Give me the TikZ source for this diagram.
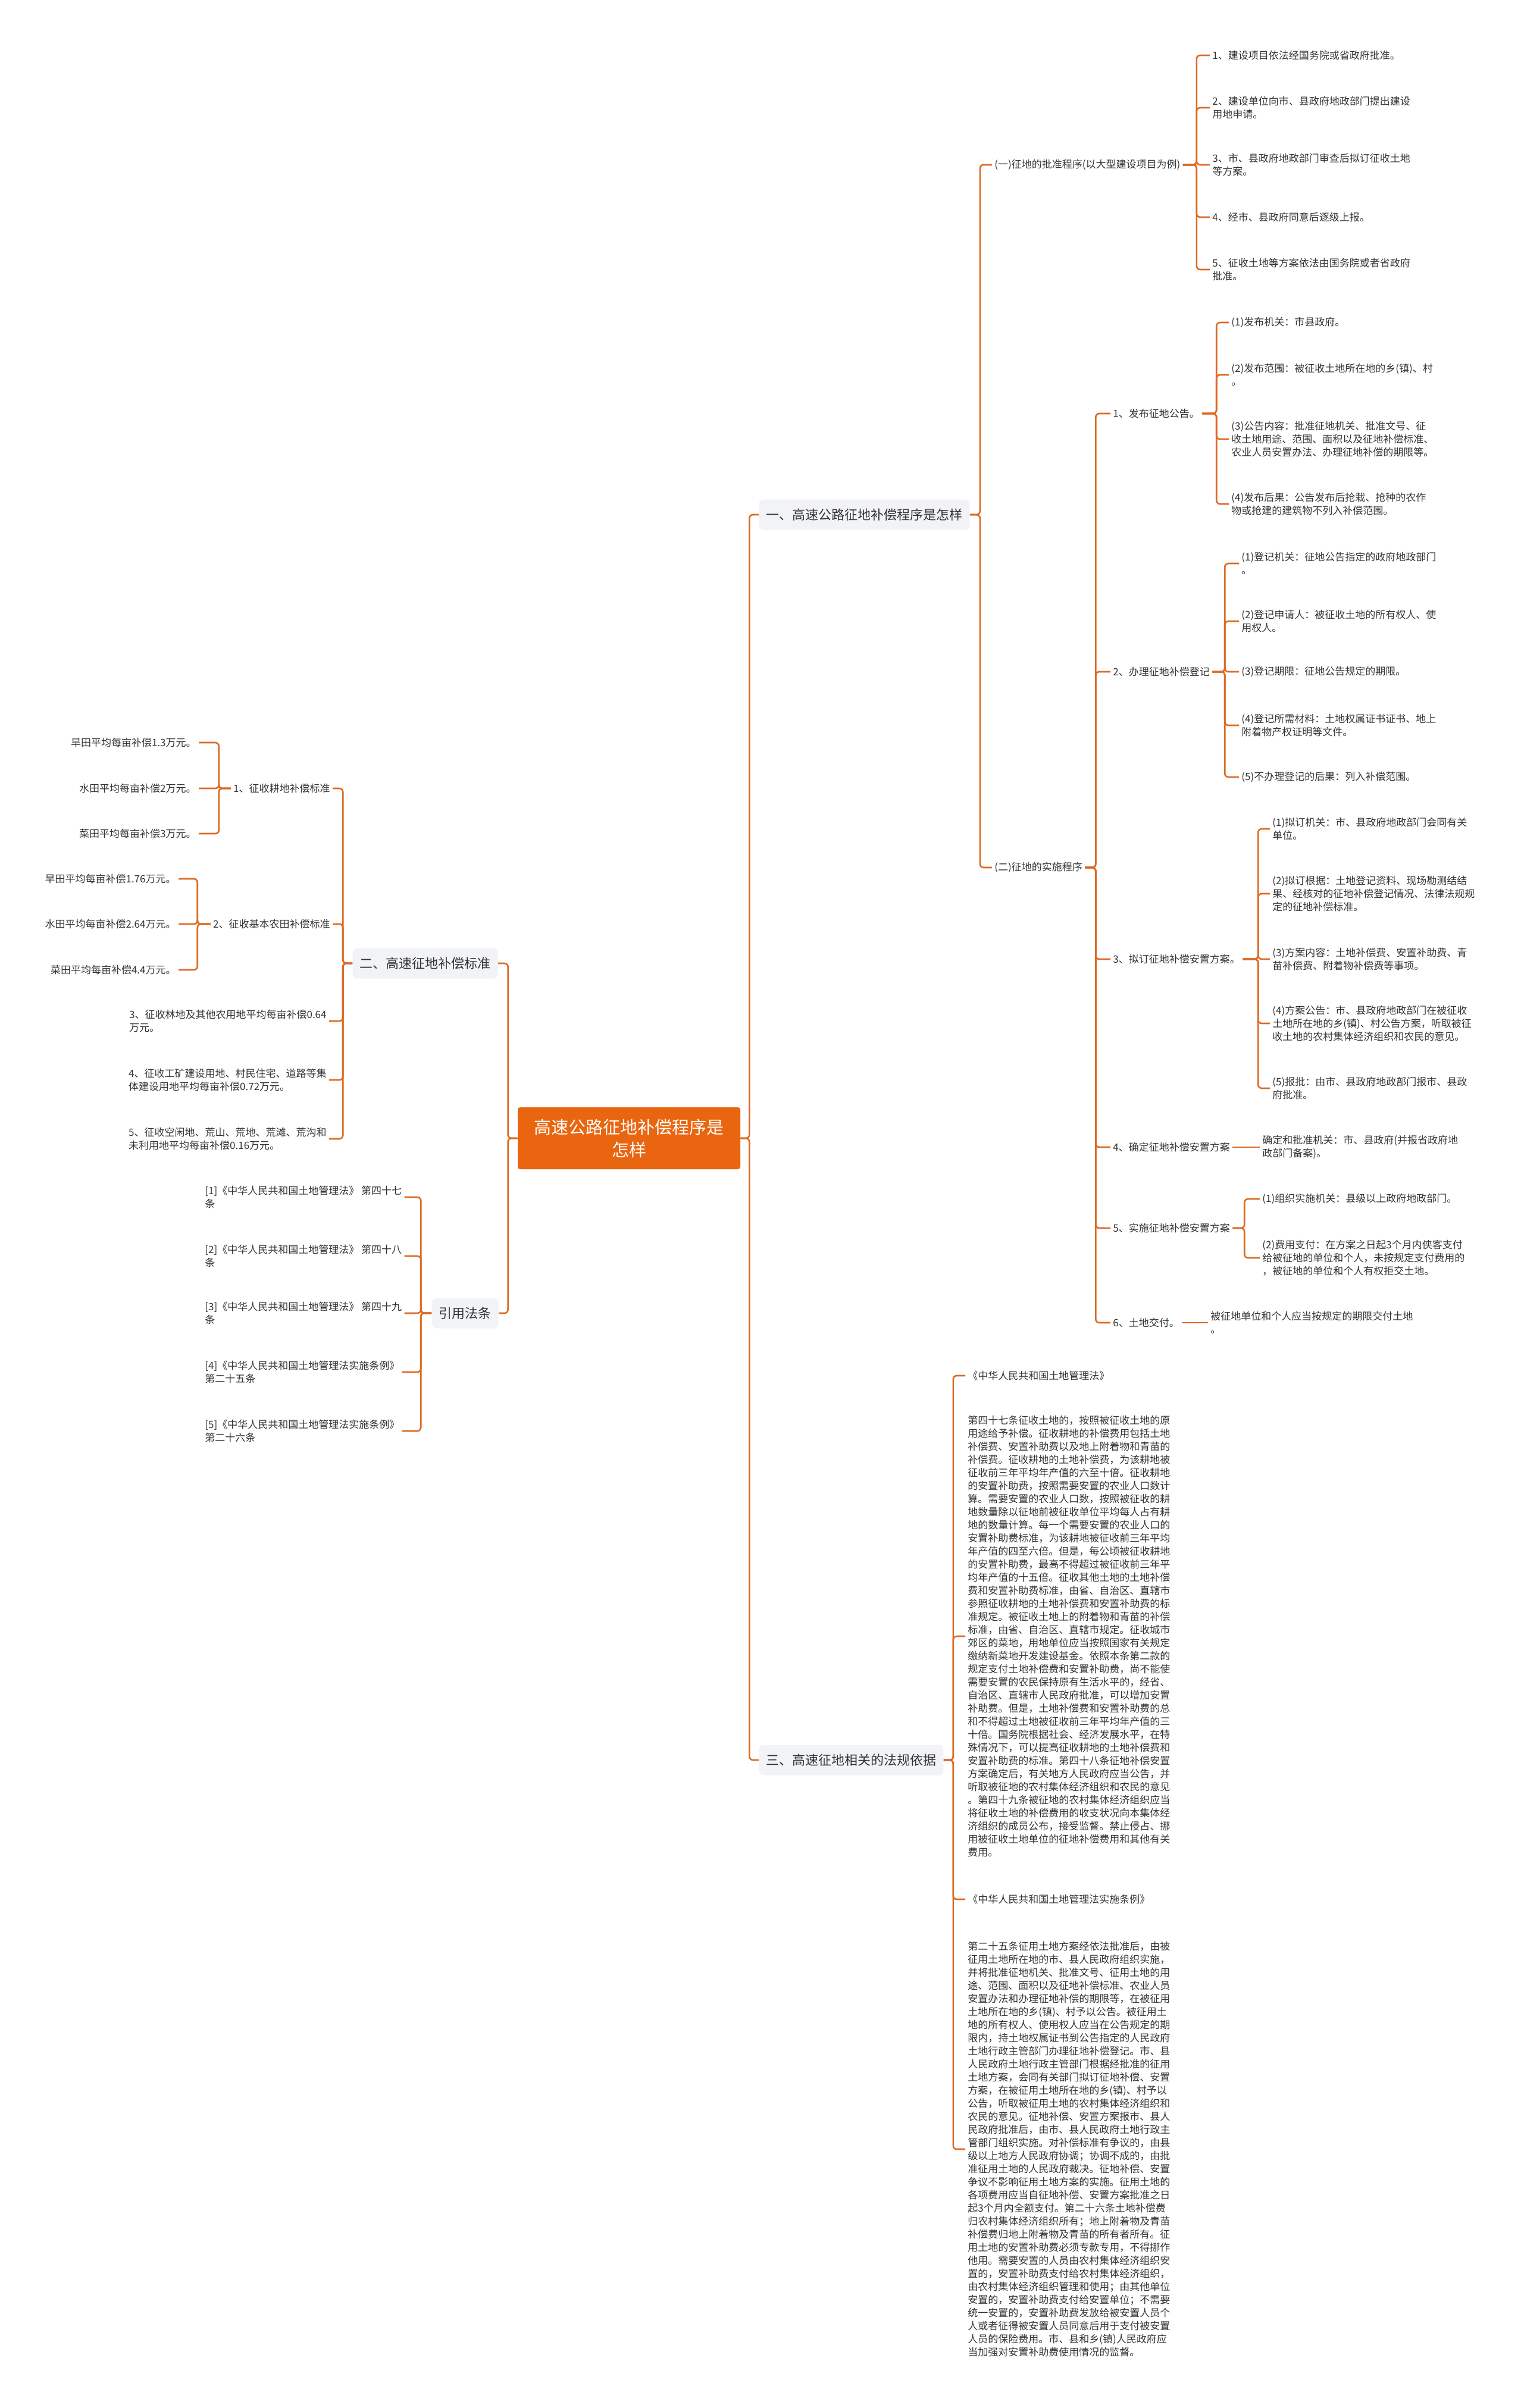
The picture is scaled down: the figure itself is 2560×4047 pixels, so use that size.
\documentclass[tikz,border=0pt]{standalone}
\usepackage{fontspec}
\setmainfont{Noto Sans CJK SC}
\usepackage{xcolor}
\usepackage{tikz}
\definecolor{MapOrange}{HTML}{E9650F}
\definecolor{MapLine}{HTML}{DD6A22}
\definecolor{MapGray}{HTML}{F1F3F6}
\definecolor{MapText}{HTML}{333333}
\tikzset{
  root/.style={fill=MapOrange, rounded corners=2pt, text=white, align=center,
               font=\fontsize{14.5}{19}\selectfont, minimum width=187pt,
               minimum height=52pt, inner sep=0pt},
  topic/.style={fill=MapGray, rounded corners=4pt, text=MapText,
                font=\fontsize{11}{13}\selectfont, minimum height=25.5pt,
                inner xsep=6pt},
  leaf/.style={text=MapText, align=left, font=\fontsize{8.5}{11}\selectfont,
               inner sep=2pt},
  link/.style={draw=MapLine, line width=1.3pt, rounded corners=3pt}
}

\begin{document}
\begin{tikzpicture}[x=0.5pt, y=-0.5pt]
  \fill[white] (0,0) rectangle (2560,4047);
  \useasboundingbox (0,0) rectangle (2560,4047);

  % centre and main topics
  \node[root] (root) at (1057,1913) {高速公路征地补偿程序是\\怎样};
  \node[topic, anchor=west] (sec1) at (1275,865) {一、高速公路征地补偿程序是怎样};
  \node[topic, anchor=west] (sec3) at (1275,2958) {三、高速征地相关的法规依据};
  \node[topic, anchor=east] (sec2) at (837,1619) {二、高速征地补偿标准};
  \node[topic, anchor=east] (cite) at (838,2207) {引用法条};
  \foreach \t in {sec1,sec3} \draw[link] (root.east) -- ++(15,0) |- (\t.west);
  \foreach \t in {sec2,cite} \draw[link] (root.west) -- ++(-16,0) |- (\t.east);

  % section one
  \node[leaf, anchor=west] (appr) at (1667,277) {(一)征地的批准程序(以大型建设项目为例)};
  \node[leaf, anchor=west] (impl) at (1667,1458) {(二)征地的实施程序};
  \foreach \t in {appr,impl} \draw[link] (sec1.east) -- ++(17,0) |- (\t.west);

  \node[leaf, anchor=west] (a1) at (2033,93) {1、建设项目依法经国务院或省政府批准。};
  \node[leaf, anchor=west] (a2) at (2033,181) {2、建设单位向市、县政府地政部门提出建设\\用地申请。};
  \node[leaf, anchor=west] (a3) at (2033,277) {3、市、县政府地政部门审查后拟订征收土地\\等方案。};
  \node[leaf, anchor=west] (a4) at (2033,365) {4、经市、县政府同意后逐级上报。};
  \node[leaf, anchor=west] (a5) at (2033,453) {5、征收土地等方案依法由国务院或者省政府\\批准。};
  \foreach \i in {1,...,5} \draw[link] (appr.east) -- ++(23,0) |- (a\i.west);

  \node[leaf, anchor=west] (b1) at (1866,695) {1、发布征地公告。};
  \node[leaf, anchor=west] (b2) at (1866,1129) {2、办理征地补偿登记};
  \node[leaf, anchor=west] (b3) at (1866,1612) {3、拟订征地补偿安置方案。};
  \node[leaf, anchor=west] (b4) at (1866,1928) {4、确定征地补偿安置方案};
  \node[leaf, anchor=west] (b5) at (1866,2064) {5、实施征地补偿安置方案};
  \node[leaf, anchor=west] (b6) at (1866,2223) {6、土地交付。};
  \foreach \i in {1,...,6} \draw[link] (impl.east) -- ++(18,0) |- (b\i.west);

  \node[leaf, anchor=west] (c1) at (2065,542) {(1)发布机关：市县政府。};
  \node[leaf, anchor=west] (c2) at (2065,630) {(2)发布范围：被征收土地所在地的乡(镇)、村\\。};
  \node[leaf, anchor=west] (c3) at (2065,738) {(3)公告内容：批准征地机关、批准文号、征\\收土地用途、范围、面积以及征地补偿标准、\\农业人员安置办法、办理征地补偿的期限等。};
  \node[leaf, anchor=west] (c4) at (2065,847) {(4)发布后果：公告发布后抢栽、抢种的农作\\物或抢建的建筑物不列入补偿范围。};
  \foreach \i in {1,...,4} \draw[link] (b1.east) -- ++(24,0) |- (c\i.west);

  \node[leaf, anchor=west] (d1) at (2082,947) {(1)登记机关：征地公告指定的政府地政部门\\。};
  \node[leaf, anchor=west] (d2) at (2082,1044) {(2)登记申请人：被征收土地的所有权人、使\\用权人。};
  \node[leaf, anchor=west] (d3) at (2082,1129) {(3)登记期限：征地公告规定的期限。};
  \node[leaf, anchor=west] (d4) at (2082,1219) {(4)登记所需材料：土地权属证书证书、地上\\附着物产权证明等文件。};
  \node[leaf, anchor=west] (d5) at (2082,1306) {(5)不办理登记的后果：列入补偿范围。};
  \foreach \i in {1,...,5} \draw[link] (b2.east) -- ++(21,0) |- (d\i.west);

  \node[leaf, anchor=west] (e1) at (2134,1393) {(1)拟订机关：市、县政府地政部门会同有关\\单位。};
  \node[leaf, anchor=west] (e2) at (2134,1502) {(2)拟订根据：土地登记资料、现场勘测结结\\果、经核对的征地补偿登记情况、法律法规规\\定的征地补偿标准。};
  \node[leaf, anchor=west] (e3) at (2134,1612) {(3)方案内容：土地补偿费、安置补助费、青\\苗补偿费、附着物补偿费等事项。};
  \node[leaf, anchor=west] (e4) at (2134,1720) {(4)方案公告：市、县政府地政部门在被征收\\土地所在地的乡(镇)、村公告方案，听取被征\\收土地的农村集体经济组织和农民的意见。};
  \node[leaf, anchor=west] (e5) at (2134,1829) {(5)报批：由市、县政府地政部门报市、县政\\府批准。};
  \foreach \i in {1,...,5} \draw[link] (b3.east) -- ++(26,0) |- (e\i.west);

  \node[leaf, anchor=west] (f1) at (2117,1928) {确定和批准机关：市、县政府(并报省政府地\\政部门备案)。};
  \draw[link] (b4.east) -- (f1.west);

  \node[leaf, anchor=west] (g1) at (2117,2015) {(1)组织实施机关：县级以上政府地政部门。};
  \node[leaf, anchor=west] (g2) at (2117,2114) {(2)费用支付：在方案之日起3个月内侠客支付\\给被征地的单位和个人，未按规定支付费用的\\，被征地的单位和个人有权拒交土地。};
  \foreach \i in {1,2} \draw[link] (b5.east) -- ++(20,0) |- (g\i.west);

  \node[leaf, anchor=west] (h1) at (2030,2223) {被征地单位和个人应当按规定的期限交付土地\\。};
  \draw[link] (b6.east) -- (h1.west);

  % section three
  \node[leaf, anchor=west] (law1) at (1622,2312) {《中华人民共和国土地管理法》};
  \node[leaf, anchor=west] (txt1) at (1622,2750) {第四十七条征收土地的，按照被征收土地的原\\用途给予补偿。征收耕地的补偿费用包括土地\\补偿费、安置补助费以及地上附着物和青苗的\\补偿费。征收耕地的土地补偿费，为该耕地被\\征收前三年平均年产值的六至十倍。征收耕地\\的安置补助费，按照需要安置的农业人口数计\\算。需要安置的农业人口数，按照被征收的耕\\地数量除以征地前被征收单位平均每人占有耕\\地的数量计算。每一个需要安置的农业人口的\\安置补助费标准，为该耕地被征收前三年平均\\年产值的四至六倍。但是，每公顷被征收耕地\\的安置补助费，最高不得超过被征收前三年平\\均年产值的十五倍。征收其他土地的土地补偿\\费和安置补助费标准，由省、自治区、直辖市\\参照征收耕地的土地补偿费和安置补助费的标\\准规定。被征收土地上的附着物和青苗的补偿\\标准，由省、自治区、直辖市规定。征收城市\\郊区的菜地，用地单位应当按照国家有关规定\\缴纳新菜地开发建设基金。依照本条第二款的\\规定支付土地补偿费和安置补助费，尚不能使\\需要安置的农民保持原有生活水平的，经省、\\自治区、直辖市人民政府批准，可以增加安置\\补助费。但是，土地补偿费和安置补助费的总\\和不得超过土地被征收前三年平均年产值的三\\十倍。国务院根据社会、经济发展水平，在特\\殊情况下，可以提高征收耕地的土地补偿费和\\安置补助费的标准。第四十八条征地补偿安置\\方案确定后，有关地方人民政府应当公告，并\\听取被征地的农村集体经济组织和农民的意见\\。第四十九条被征地的农村集体经济组织应当\\将征收土地的补偿费用的收支状况向本集体经\\济组织的成员公布，接受监督。禁止侵占、挪\\用被征收土地单位的征地补偿费用和其他有关\\费用。};
  \node[leaf, anchor=west] (law2) at (1622,3192) {《中华人民共和国土地管理法实施条例》};
  \node[leaf, anchor=west] (txt2) at (1622,3612) {第二十五条征用土地方案经依法批准后，由被\\征用土地所在地的市、县人民政府组织实施，\\并将批准征地机关、批准文号、征用土地的用\\途、范围、面积以及征地补偿标准、农业人员\\安置办法和办理征地补偿的期限等，在被征用\\土地所在地的乡(镇)、村予以公告。被征用土\\地的所有权人、使用权人应当在公告规定的期\\限内，持土地权属证书到公告指定的人民政府\\土地行政主管部门办理征地补偿登记。市、县\\人民政府土地行政主管部门根据经批准的征用\\土地方案，会同有关部门拟订征地补偿、安置\\方案，在被征用土地所在地的乡(镇)、村予以\\公告，听取被征用土地的农村集体经济组织和\\农民的意见。征地补偿、安置方案报市、县人\\民政府批准后，由市、县人民政府土地行政主\\管部门组织实施。对补偿标准有争议的，由县\\级以上地方人民政府协调；协调不成的，由批\\准征用土地的人民政府裁决。征地补偿、安置\\争议不影响征用土地方案的实施。征用土地的\\各项费用应当自征地补偿、安置方案批准之日\\起3个月内全额支付。第二十六条土地补偿费\\归农村集体经济组织所有；地上附着物及青苗\\补偿费归地上附着物及青苗的所有者所有。征\\用土地的安置补助费必须专款专用，不得挪作\\他用。需要安置的人员由农村集体经济组织安\\置的，安置补助费支付给农村集体经济组织，\\由农村集体经济组织管理和使用；由其他单位\\安置的，安置补助费支付给安置单位；不需要\\统一安置的，安置补助费发放给被安置人员个\\人或者征得被安置人员同意后用于支付被安置\\人员的保险费用。市、县和乡(镇)人民政府应\\当加强对安置补助费使用情况的监督。};
  \foreach \t in {law1,txt1,law2,txt2} \draw[link] (sec3.east) -- ++(16,0) |- (\t.west);

  % section two
  \node[leaf, anchor=east] (s1) at (559,1325) {1、征收耕地补偿标准};
  \node[leaf, anchor=east] (s2) at (559,1553) {2、征收基本农田补偿标准};
  \node[leaf, anchor=east] (s3) at (553,1716) {3、征收林地及其他农用地平均每亩补偿0.64\\万元。};
  \node[leaf, anchor=east] (s4) at (553,1815) {4、征收工矿建设用地、村民住宅、道路等集\\体建设用地平均每亩补偿0.72万元。};
  \node[leaf, anchor=east] (s5) at (553,1914) {5、征收空闲地、荒山、荒地、荒滩、荒沟和\\未利用地平均每亩补偿0.16万元。};
  \foreach \i in {1,...,5} \draw[link] (sec2.west) -- ++(-16,0) |- (s\i.east);

  \node[leaf, anchor=east] (s1a) at (334,1248) {旱田平均每亩补偿1.3万元。};
  \node[leaf, anchor=east] (s1b) at (334,1325) {水田平均每亩补偿2万元。};
  \node[leaf, anchor=east] (s1c) at (334,1401) {菜田平均每亩补偿3万元。};
  \foreach \t in {s1a,s1b,s1c} \draw[link] (s1.west) -- ++(-20,0) |- (\t.east);

  \node[leaf, anchor=east] (s2a) at (300,1477) {旱田平均每亩补偿1.76万元。};
  \node[leaf, anchor=east] (s2b) at (300,1553) {水田平均每亩补偿2.64万元。};
  \node[leaf, anchor=east] (s2c) at (300,1630) {菜田平均每亩补偿4.4万元。};
  \foreach \t in {s2a,s2b,s2c} \draw[link] (s2.west) -- ++(-22,0) |- (\t.east);

  % cited articles
  \node[leaf, anchor=west] (r1) at (340,2012) {[1]《中华人民共和国土地管理法》 第四十七\\条};
  \node[leaf, anchor=west] (r2) at (340,2111) {[2]《中华人民共和国土地管理法》 第四十八\\条};
  \node[leaf, anchor=west] (r3) at (340,2207) {[3]《中华人民共和国土地管理法》 第四十九\\条};
  \node[leaf, anchor=west] (r4) at (340,2306) {[4]《中华人民共和国土地管理法实施条例》\\第二十五条};
  \node[leaf, anchor=west] (r5) at (340,2405) {[5]《中华人民共和国土地管理法实施条例》\\第二十六条};
  \foreach \i in {1,...,5} \draw[link] (cite.west) -- ++(-18,0) |- (r\i.east);
\end{tikzpicture}
\end{document}
